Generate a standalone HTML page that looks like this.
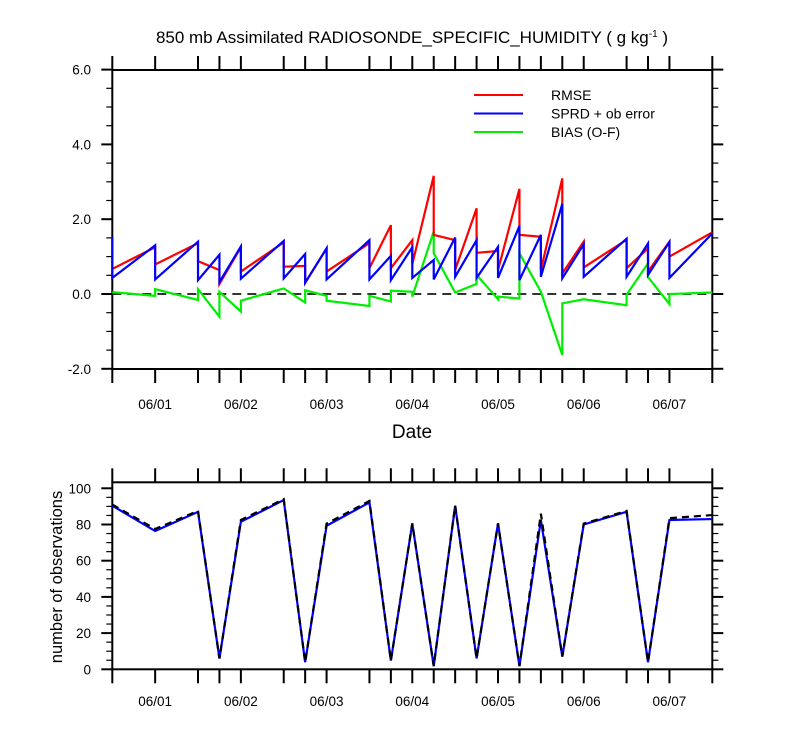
<!DOCTYPE html>
<html><head><meta charset="utf-8"><style>
body{margin:0;background:#fff;}
svg{display:block;font-family:"Liberation Sans",sans-serif;}
</style></head><body>
<svg id="chart" width="800" height="750"></svg>
<script>
const tickTimes=[0,2,4,5,6,8,9,10,12,13,14,15,16,17,18,19,20,21,22,24,25,26,28];
const dateLabels=["06/01","06/02","06/03","06/04","06/05","06/06","06/07"];
const dateTimes=[2,6,10,14,18,22,26];
const rmse=[[0,0.67],[2,1.25],[2,0.79],[4,1.36],[4,0.88],[5,0.64],[5,0.27],[6,1.25],[6,0.6],[8,1.38],[8,0.73],[9,0.75],[9,0.3],[10,1.22],[10,0.6],[12,1.36],[12,0.69],[13,1.84],[13,0.69],[14,1.44],[14,0.8],[15,3.16],[15,1.58],[16,1.44],[16,0.64],[17,2.29],[17,1.1],[18,1.15],[18,0.64],[19,2.81],[19,1.58],[20,1.53],[20,0.64],[21,3.09],[21,0.55],[22,1.4],[22,0.71],[24,1.45],[24,0.69],[25,1.22],[25,0.6],[26,1.4],[26,1.0],[28,1.65]];
const sprd=[[0,1.53],[0,0.43],[2,1.3],[2,0.39],[4,1.4],[4,0.37],[5,1.05],[5,0.32],[6,1.27],[6,0.41],[8,1.42],[8,0.42],[9,1.07],[9,0.3],[10,1.22],[10,0.39],[12,1.44],[12,0.39],[13,1.02],[13,0.37],[14,1.25],[14,0.43],[15,0.91],[15,0.39],[16,1.51],[16,0.46],[17,1.44],[17,0.43],[18,1.26],[18,0.43],[19,1.82],[19,0.37],[20,1.58],[20,0.46],[21,2.41],[21,0.42],[22,1.33],[22,0.46],[24,1.48],[24,0.46],[25,1.35],[25,0.51],[26,1.39],[26,0.43],[28,1.62]];
const bias=[[0,0.05],[2,-0.05],[2,0.13],[4,-0.16],[4,0.13],[5,-0.61],[5,0.06],[6,-0.47],[6,-0.18],[8,0.15],[9,-0.23],[9,0.1],[10,-0.05],[10,-0.18],[12,-0.32],[12,-0.05],[13,-0.2],[13,0.09],[14,0.06],[14,-0.07],[15,1.67],[15,1.09],[16,0.04],[17,0.27],[17,0.51],[18,-0.14],[18,-0.07],[19,-0.12],[19,1.09],[20,0.06],[21,-1.63],[21,-0.25],[22,-0.14],[24,-0.3],[24,-0.02],[25,0.82],[25,0.45],[26,-0.27],[26,0.0],[28,0.04]];
const obsTimes=[0,2,4,5,6,8,9,10,12,13,14,15,16,17,18,19,20,21,22,24,25,26,28];
const obsUsed=[90.4,76.4,87,6,81.5,93.5,3.9,79.3,92.2,4.8,80.6,1.8,90.4,6,80.6,1.8,82.5,7,80,87,3.9,82.5,83];
const obsTotal=[91,77.5,87.5,6,82.5,94,3.9,80.5,93,4.8,80.6,1.8,90.4,6,80.6,1.8,86,7,80.5,87.5,3.9,83.5,85.2];
const topTicks=[-2,0,2,4,6];
const botTicks=[0,20,40,60,80,100];

const NS="http://www.w3.org/2000/svg";
const svg=document.getElementById('chart');
function mk(tag,attrs,parent){const e=document.createElementNS(NS,tag);for(const k in attrs)e.setAttribute(k,attrs[k]);(parent||svg).appendChild(e);return e;}
const X0=112.3,X1=712.3,TMAX=28;
const xs=t=>X0+(t/TMAX)*(X1-X0);
const yTop=v=>294-v*37.4;
const yBot=v=>669.3-v*1.81;

let t=mk('text',{x:412,y:43,'text-anchor':'middle','font-size':17});

t.innerHTML='850 mb Assimilated RADIOSONDE_SPECIFIC_HUMIDITY ( g kg<tspan dy="-6" font-size="10">-1</tspan><tspan dy="6"> )</tspan>';

function panel(name,top,bottom,yfn,ticks,minorStep,vmin,vmax,fmt){
  const g=mk('g',{});
  
  mk('rect',{x:X0,y:top,width:X1-X0,height:bottom-top,fill:'none',stroke:'#000','stroke-width':2},g);
  tickTimes.forEach(tt=>{const x=xs(tt);
    mk('line',{x1:x,x2:x,y1:bottom,y2:bottom+14,stroke:'#000','stroke-width':2},g);
    mk('line',{x1:x,x2:x,y1:top,y2:top-14,stroke:'#000','stroke-width':2},g);});
  for(let v=vmin;v<=vmax+1e-6;v+=minorStep){const y=yfn(v);
    const major=ticks.some(k=>Math.abs(k-v)<1e-6);const L=major?11:6;
    mk('line',{x1:X0-L,x2:X0,y1:y,y2:y,stroke:'#000','stroke-width':major?2:1.2},g);
    mk('line',{x1:X1,x2:X1+L,y1:y,y2:y,stroke:'#000','stroke-width':major?2:1.2},g);}
  ticks.forEach(v=>{const l=mk('text',{x:91,y:yfn(v)+5,'text-anchor':'end','font-size':13.5},g);
    
    l.textContent=fmt?v.toFixed(1):v;});
  return g;
}
const gTop=panel('top-panel',70,369,yTop,topTicks,0.5,-2,6,true);
const gBot=panel('bottom-panel',482.3,669.3,yBot,botTicks,5,0,100,false);

function dateAxis(g,y){dateTimes.forEach((tt,i)=>{const l=mk('text',{x:xs(tt),y:y,'text-anchor':'middle','font-size':13.5},g);
  l.textContent=dateLabels[i];});}
dateAxis(gTop,409);dateAxis(gBot,706);
let dl=mk('text',{x:412,y:438,'text-anchor':'middle','font-size':19});
dl.textContent='Date';
let yl=mk('text',{x:0,y:0,'text-anchor':'middle','font-size':16.5,transform:'translate(62,577) rotate(-90)'});
yl.textContent='number of observations';

let z=mk('line',{x1:X0,x2:X1,y1:yTop(0),y2:yTop(0),stroke:'#333','stroke-width':2,'stroke-dasharray':'9,6'},gTop);


function series(g,pairs,yfn,color,name,dash){const p=mk('polyline',{points:pairs.map(d=>xs(d[0])+','+yfn(d[1])).join(' '),fill:'none',stroke:color,'stroke-width':2.2,'stroke-linejoin':'miter'},g);
  if(dash)p.setAttribute('stroke-dasharray',dash);
  }
series(gTop,bias,yTop,'#00ee00','bias-line');
series(gTop,rmse,yTop,'#ff0000','rmse-line');
series(gTop,sprd,yTop,'#0000ff','sprd-line');
series(gBot,obsTimes.map((tt,i)=>[tt,obsUsed[i]]),yBot,'#0000ff','obs-used-line');
series(gBot,obsTimes.map((tt,i)=>[tt,obsTotal[i]]),yBot,'#000','obs-total-line','7,5');

const leg=[['RMSE','#ff0000'],['SPRD + ob error','#0000ff'],['BIAS (O-F)','#00ee00']];
leg.forEach((d,i)=>{const g=mk('g',{});
  
  const y=95+i*18.5;
  mk('line',{x1:474,x2:523,y1:y,y2:y,stroke:d[1],'stroke-width':2},g);
  const tx=mk('text',{x:551,y:y+5,'font-size':14},g);tx.textContent=d[0];});
</script>
</body></html>
